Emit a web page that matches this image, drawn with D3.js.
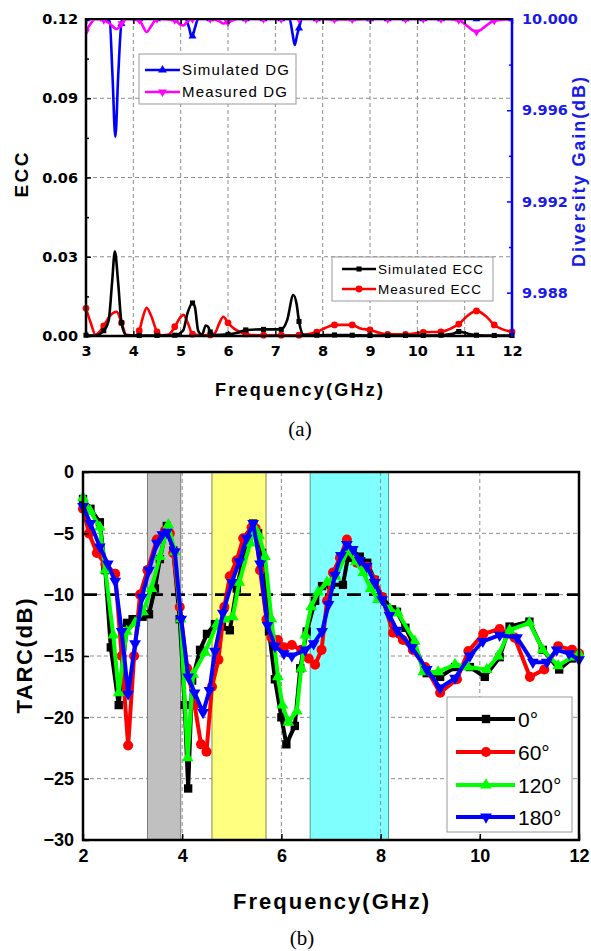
<!DOCTYPE html>
<html>
<head>
<meta charset="utf-8">
<script src="https://cdn.jsdelivr.net/npm/d3@7"></script>
<style>
  body { margin: 0; background: #fff; }
  svg text { font-family: "Liberation Sans", Arial, sans-serif; }
</style>
</head>
<body>
<svg id="chart" width="591" height="951"></svg>
<script>
// ---------- panel (a): ECC and diversity gain ----------
const eccFreqTicks = [3, 4, 5, 6, 7, 8, 9, 10, 11, 12];
const eccTicks = [0, 0.03, 0.06, 0.09, 0.12];
const eccMinorTicks = [0.015, 0.045, 0.075, 0.105];
const dgTicks = [9.988, 9.992, 9.996, 10.0];
const dgMinorTicks = [9.990, 9.994, 9.998];
const eccMarkerStep = 0.375;

// [frequency GHz, ECC]
const simulatedEcc = [
  [3.0, 0.0003], [3.2, 0.0002], [3.375, 0.002], [3.48, 0.006], [3.55, 0.02], [3.61, 0.032],
  [3.68, 0.02], [3.75, 0.005], [3.85, 0.0003], [4.125, 0.0002], [4.5, 0.0002], [4.875, 0.0003],
  [5.05, 0.002], [5.15, 0.009], [5.25, 0.0125], [5.3, 0.011], [5.37, 0.002], [5.45, 0.0005],
  [5.53, 0.004], [5.58, 0.0035], [5.625, 0.0015], [5.7, 0.0004], [6.0, 0.0006], [6.2, 0.0012],
  [6.375, 0.0023], [6.75, 0.0025], [7.125, 0.0025], [7.25, 0.006], [7.38, 0.0155], [7.45, 0.012],
  [7.5, 0.0055], [7.6, 0.0005], [7.875, 0.0003], [8.25, 0.0004], [8.625, 0.0003], [9.0, 0.0002],
  [9.375, 0.0002], [9.75, 0.0002], [10.125, 0.0002], [10.5, 0.0003], [10.75, 0.0008],
  [10.875, 0.0017], [11.0, 0.0012], [11.25, 0.0003], [11.625, 0.0002], [12.0, 0.0002]
];
const measuredEcc = [
  [3.0, 0.0105], [3.1, 0.005], [3.2, 0.0005], [3.375, 0.0038], [3.5, 0.0075], [3.65, 0.0092],
  [3.75, 0.005], [3.85, 0.0005], [4.05, 0.0003], [4.125, 0.002], [4.2, 0.007], [4.28, 0.0107],
  [4.38, 0.0075], [4.5, 0.0016], [4.6, 0.0003], [4.75, 0.0006], [4.875, 0.0035], [5.0, 0.0072],
  [5.06, 0.008], [5.15, 0.005], [5.25, 0.0007], [5.4, 0.0004], [5.625, 0.0004], [5.72, 0.001],
  [5.82, 0.005], [5.9, 0.0073], [6.0, 0.005], [6.15, 0.0025], [6.375, 0.0008], [6.5, 0.0004],
  [6.75, 0.0003], [7.125, 0.0003], [7.5, 0.0003], [7.875, 0.0015], [8.05, 0.003], [8.25, 0.0042],
  [8.625, 0.0042], [8.8, 0.0028], [9.0, 0.0023], [9.2, 0.0012], [9.375, 0.0006], [9.75, 0.0006],
  [10.125, 0.0014], [10.5, 0.0016], [10.7, 0.0028], [10.875, 0.0045], [11.05, 0.0075],
  [11.25, 0.0095], [11.45, 0.0075], [11.625, 0.0042], [11.8, 0.0025], [12.0, 0.0016]
];
// [frequency GHz, diversity gain dB]
const simulatedDg = [
  [3.0, 10.0], [3.375, 10.0], [3.5, 9.9999], [3.56, 9.9975], [3.62, 9.99483], [3.68, 9.9975],
  [3.75, 9.9998], [3.85, 10.0], [4.125, 10.0], [4.5, 10.0], [4.875, 10.0], [5.1, 10.0],
  [5.18, 9.9996], [5.23, 9.99922], [5.25, 9.99925], [5.3, 9.9996], [5.37, 10.0], [5.625, 10.0],
  [6.0, 10.0], [6.375, 10.0], [6.75, 10.0], [7.125, 10.0], [7.3, 10.0], [7.36, 9.9994],
  [7.41, 9.99886], [7.46, 9.9993], [7.5, 9.9996], [7.56, 10.0], [7.875, 10.0], [8.25, 10.0],
  [8.625, 10.0], [9.0, 10.0], [9.375, 10.0], [9.75, 10.0], [10.125, 10.0], [10.5, 10.0],
  [10.875, 10.0], [11.25, 10.0], [11.625, 10.0], [12.0, 10.0]
];
const measuredDg = [
  [3.0, 9.99945], [3.1, 9.9998], [3.2, 10.0], [3.375, 9.99995], [3.5, 9.9998], [3.65, 9.99956],
  [3.75, 9.9998], [3.85, 10.0], [4.125, 9.99995], [4.2, 9.9997], [4.28, 9.99943], [4.38, 9.9997],
  [4.5, 10.0], [4.875, 9.99995], [5.0, 9.99975], [5.06, 9.99972], [5.15, 9.9999], [5.25, 10.0],
  [5.625, 10.0], [5.82, 9.9999], [5.9, 9.9998], [6.0, 9.99985], [6.2, 10.0], [6.375, 10.0],
  [6.75, 10.0], [7.125, 10.0], [7.5, 10.0], [7.875, 10.0], [8.25, 9.99998], [8.625, 9.99998],
  [9.0, 10.0], [9.375, 10.0], [9.75, 10.0], [10.125, 10.0], [10.5, 10.0], [10.875, 9.99995],
  [11.05, 9.9997], [11.25, 9.99944], [11.45, 9.9997], [11.625, 9.99993], [12.0, 10.0]
];

// ---------- panel (b): TARC ----------
const tarcFreqTicks = [2, 4, 6, 8, 10, 12];
const tarcTicks = [0, -5, -10, -15, -20, -25, -30];
const tarcThreshold = -10;
const bandEdges = [[3.3, 3.97], [4.6, 5.69], [6.58, 8.16]];
const tarcLabels = ["0°", "60°", "120°", "180°"];

// [frequency GHz, TARC dB]
const tarc0 = [
  [2.0, -2.2], [2.15, -3.0], [2.34, -4.1], [2.45, -8], [2.56, -14.3], [2.72, -19], [2.89, -12.3],
  [3.0, -12], [3.2, -11.8], [3.33, -11.6], [3.45, -9.5], [3.55, -7.1], [3.69, -4.4], [3.82, -6.4],
  [3.95, -12], [4.05, -19], [4.12, -25.8], [4.2, -17], [4.36, -14.5], [4.5, -13.2], [4.66, -12.4],
  [4.8, -12.6], [4.96, -12.9], [5.1, -9.5], [5.3, -5.8], [5.43, -4.2], [5.53, -5], [5.61, -6.6],
  [5.75, -13], [5.87, -16.9], [6.0, -20], [6.1, -22.2], [6.27, -20.7], [6.38, -16], [6.51, -13],
  [6.68, -10.5], [6.82, -9.3], [7.0, -9.2], [7.24, -9.2], [7.34, -7], [7.44, -6.4], [7.58, -6.9],
  [7.73, -7.4], [7.88, -8.8], [8.03, -10.2], [8.23, -11.2], [8.33, -11.4], [8.5, -12.7],
  [8.65, -13.9], [8.93, -16.4], [9.2, -16.7], [9.5, -15.9], [9.8, -15.9], [10.1, -16.7],
  [10.4, -15.1], [10.6, -12.6], [11.0, -12.2], [11.27, -14.5], [11.6, -16.1], [11.86, -15.2],
  [12.0, -14.9]
];
const tarc60 = [
  [2.0, -3], [2.12, -5], [2.28, -6.6], [2.45, -7.5], [2.65, -8.3], [2.78, -15], [2.91, -22.3],
  [3.03, -15], [3.15, -10], [3.3, -8], [3.49, -5.5], [3.65, -4.8], [3.75, -5], [3.82, -6.6],
  [3.95, -11], [4.1, -16], [4.25, -19], [4.38, -22.2], [4.49, -22.8], [4.6, -17.5], [4.73, -15.3],
  [4.85, -11], [4.96, -8.5], [5.1, -7.2], [5.23, -5.4], [5.4, -4.5], [5.48, -4.6], [5.57, -8],
  [5.7, -12], [5.8, -13.5], [5.93, -13.7], [6.05, -14.3], [6.21, -14.1], [6.4, -14.5],
  [6.55, -15.2], [6.68, -15.7], [6.81, -14.5], [6.92, -10.5], [7.04, -8.2], [7.18, -7],
  [7.32, -5.5], [7.42, -6.5], [7.52, -7.4], [7.73, -7.7], [7.88, -8.8], [8.03, -10.2],
  [8.25, -13.1], [8.45, -13.7], [8.65, -14.5], [8.9, -15.9], [9.2, -18], [9.54, -16.9],
  [9.77, -14.6], [10.07, -13.2], [10.4, -12.8], [10.7, -13.5], [11.01, -16.7], [11.3, -16.1],
  [11.58, -14.2], [11.86, -14.5], [12.0, -14.8]
];
const tarc120 = [
  [2.0, -2.1], [2.15, -3.2], [2.34, -4.5], [2.45, -8], [2.61, -13.3], [2.72, -18], [2.88, -13],
  [3.05, -12.3], [3.21, -11.4], [3.38, -9.5], [3.55, -6.9], [3.72, -4.3], [3.85, -6.5],
  [3.97, -12], [4.11, -23.3], [4.22, -16.5], [4.46, -14.7], [4.7, -12.4], [4.85, -12],
  [5.02, -11.8], [5.15, -9], [5.37, -5.8], [5.45, -4.5], [5.55, -5.2], [5.67, -6.9], [5.8, -12],
  [5.93, -16.7], [6.02, -19], [6.14, -20.4], [6.31, -19.5], [6.4, -16], [6.48, -13.3],
  [6.6, -11], [6.74, -9.8], [6.92, -9], [7.1, -8.5], [7.34, -6.4], [7.5, -7.3], [7.65, -8.2],
  [7.8, -9.5], [7.95, -10.4], [8.19, -11.2], [8.35, -11.5], [8.69, -13.8], [8.86, -16.3],
  [9.16, -16.3], [9.5, -15.7], [9.76, -15.9], [10.14, -16.1], [10.37, -15], [10.6, -12.9],
  [11.0, -12.3], [11.27, -14.5], [11.58, -15.8], [11.85, -15.1], [12.0, -14.8]
];
const tarc180 = [
  [2.0, -2.8], [2.15, -4.2], [2.34, -6.1], [2.5, -7.5], [2.65, -8.9], [2.78, -13], [2.91, -18.1],
  [3.05, -14], [3.19, -10.2], [3.33, -8], [3.49, -5.8], [3.6, -5.1], [3.69, -4.9], [3.85, -6.5],
  [3.98, -12], [4.12, -16.7], [4.25, -18], [4.42, -19.6], [4.55, -17.8], [4.66, -14.6],
  [4.82, -11.5], [5.0, -9], [5.15, -7.3], [5.3, -5.4], [5.43, -4.2], [5.57, -7.5], [5.72, -12.5],
  [5.87, -14.2], [6.05, -14.8], [6.21, -15], [6.48, -14.5], [6.65, -14], [6.82, -13],
  [6.95, -10.8], [7.08, -8.4], [7.2, -6.8], [7.32, -5.9], [7.44, -6.3], [7.58, -7.2],
  [7.72, -7.7], [7.88, -9], [8.03, -10.4], [8.18, -11.7], [8.33, -12.9], [8.63, -14.3],
  [8.93, -16.1], [9.2, -17.6], [9.5, -16.8], [9.8, -15], [10.06, -13.8], [10.4, -13.3],
  [10.75, -13.5], [11.07, -15.5], [11.35, -15.5], [11.55, -14.5], [11.8, -14.8], [12.0, -15.3]
];

const svg = d3.select("#chart");
const BLUE_TXT = "#1a1ae6";
const TICK_FONT_A = "'DejaVu Sans', sans-serif";

function styleAxis(g, color, fontSize, family) {
  g.select(".domain").remove();
  g.selectAll(".tick line").attr("stroke", color).attr("stroke-width", 1.5);
  g.selectAll(".tick text")
    .attr("fill", color)
    .style("font-family", family || null)
    .style("font-size", fontSize + "px")
    .style("font-weight", "bold");
}

const symbols = {
  square: d3.symbolSquare,
  circle: d3.symbolCircle,
  up: d3.symbolTriangle,
  down: d3.symbolTriangle
};
function markerPath(kind, size) {
  return d3.symbol().type(symbols[kind]).size(size)();
}
function markerTransform(kind, x, y) {
  return `translate(${x},${y})` + (kind === "down" ? " rotate(180)" : "");
}

// ================= panel (a) =================
const ax = d3.scaleLinear().domain([3, 12]).range([86, 512]);
const ayL = d3.scaleLinear().domain([0, 0.12]).range([336, 19]);
const ayR = d3.scaleLinear().domain([9.9861, 10]).range([336, 19]);

const pa = svg.append("g");
pa.append("defs").append("clipPath").attr("id", "clipA")
  .append("rect").attr("x", 86).attr("y", 19).attr("width", 426).attr("height", 317);

// grid
pa.append("g").selectAll("line").data(eccFreqTicks.slice(1, -1)).join("line")
  .attr("x1", d => ax(d)).attr("x2", d => ax(d)).attr("y1", 19).attr("y2", 336)
  .attr("stroke", "#8c8c8c").attr("stroke-width", 1).attr("stroke-dasharray", "4,3");
pa.append("g").selectAll("line").data(eccTicks.slice(1, -1)).join("line")
  .attr("x1", 86).attr("x2", 512).attr("y1", d => ayL(d)).attr("y2", d => ayL(d))
  .attr("stroke", "#8c8c8c").attr("stroke-width", 1).attr("stroke-dasharray", "4,3");

function isEccMarker(f) {
  const k = (f - 3) / eccMarkerStep;
  return Math.abs(k - Math.round(k)) < 1e-6;
}

function drawSeriesA(data, yScale, color, kind, size, clip) {
  const g = pa.append("g");
  if (clip) g.attr("clip-path", "url(#clipA)");
  const line = d3.line().x(d => ax(d[0])).y(d => yScale(d[1])).curve(d3.curveMonotoneX);
  g.append("path").datum(data).attr("d", line)
    .attr("fill", "none").attr("stroke", color).attr("stroke-width", 2.6)
    .attr("stroke-linejoin", "round");
  g.selectAll("path.m").data(data.filter(d => isEccMarker(d[0]))).join("path")
    .attr("class", "m").attr("d", markerPath(kind, size))
    .attr("transform", d => markerTransform(kind, ax(d[0]), yScale(d[1])))
    .attr("fill", color);
}

drawSeriesA(simulatedDg, ayR, "#0000ff", "up", 28, true);
drawSeriesA(measuredDg, ayR, "#ff00ff", "down", 28, true);
drawSeriesA(measuredEcc, ayL, "#ff0000", "circle", 36, false);
drawSeriesA(simulatedEcc, ayL, "#000000", "square", 26, false);

// axes (a)
const aLeft = pa.append("g").attr("transform", "translate(86,0)")
  .call(d3.axisLeft(ayL).tickValues(eccTicks).tickFormat(d3.format(".2f"))
    .tickSizeInner(-5).tickSizeOuter(0).tickPadding(8));
styleAxis(aLeft, "#000", 14.5, TICK_FONT_A);
const aLeftMinor = pa.append("g").attr("transform", "translate(86,0)")
  .call(d3.axisLeft(ayL).tickValues(eccMinorTicks).tickFormat("").tickSizeInner(-3).tickSizeOuter(0));
styleAxis(aLeftMinor, "#000", 14.5, TICK_FONT_A);

const aBottom = pa.append("g").attr("transform", "translate(0,336)")
  .call(d3.axisBottom(ax).tickValues(eccFreqTicks).tickFormat(d3.format("d"))
    .tickSizeInner(-5).tickSizeOuter(0).tickPadding(10));
styleAxis(aBottom, "#000", 14.5, TICK_FONT_A);
const aTop = pa.append("g").attr("transform", "translate(0,19)")
  .call(d3.axisTop(ax).tickValues(eccFreqTicks).tickFormat("").tickSizeInner(-5).tickSizeOuter(0));
styleAxis(aTop, "#000", 14.5, TICK_FONT_A);

const aRight = pa.append("g").attr("transform", "translate(512,0)")
  .call(d3.axisRight(ayR).tickValues(dgTicks).tickFormat(d3.format(".3f"))
    .tickSizeInner(-5).tickSizeOuter(0).tickPadding(10));
styleAxis(aRight, "#0000ff", 14.5, TICK_FONT_A);
aRight.selectAll(".tick text").attr("fill", BLUE_TXT);
const aRightMinor = pa.append("g").attr("transform", "translate(512,0)")
  .call(d3.axisRight(ayR).tickValues(dgMinorTicks).tickFormat("").tickSizeInner(-3).tickSizeOuter(0));
styleAxis(aRightMinor, "#0000ff", 14.5, TICK_FONT_A);

// frame (a)
pa.append("line").attr("x1", 85).attr("x2", 512).attr("y1", 19).attr("y2", 19).attr("stroke", "#000").attr("stroke-width", 2);
pa.append("line").attr("x1", 85).attr("x2", 512).attr("y1", 336).attr("y2", 336).attr("stroke", "#000").attr("stroke-width", 2.5);
pa.append("line").attr("x1", 86).attr("x2", 86).attr("y1", 18).attr("y2", 337).attr("stroke", "#000").attr("stroke-width", 2.5);
pa.append("line").attr("x1", 512).attr("x2", 512).attr("y1", 18).attr("y2", 337).attr("stroke", "#0000ff").attr("stroke-width", 2.5);

// axis titles (a)
pa.append("text").attr("transform", "translate(28,175) rotate(-90)")
  .attr("text-anchor", "middle").attr("textLength", 45).attr("lengthAdjust", "spacing")
  .style("font-size", "19px").style("font-weight", "bold").text("ECC");
pa.append("text").attr("transform", "translate(585,172) rotate(-90)")
  .attr("text-anchor", "middle").attr("textLength", 190).attr("lengthAdjust", "spacing")
  .style("font-size", "18px").style("font-weight", "bold")
  .attr("fill", BLUE_TXT).text("Diversity Gain(dB)");
pa.append("text").attr("x", 215).attr("y", 395.5)
  .attr("textLength", 168).attr("lengthAdjust", "spacing")
  .style("font-size", "18px").style("font-weight", "bold").text("Frequency(GHz)");
pa.append("text").attr("x", 300).attr("y", 436).attr("text-anchor", "middle")
  .style("font-family", "'Liberation Serif', serif").style("font-size", "21px").text("(a)");

// legends (a)
function legendA(x, y, w, h, entries, fs) {
  const g = pa.append("g");
  g.append("rect").attr("x", x).attr("y", y).attr("width", w).attr("height", h)
    .attr("fill", "#fff").attr("stroke", "#999").attr("stroke-width", 1);
  entries.forEach(e => {
    g.append("line").attr("x1", e.x1).attr("x2", e.x2).attr("y1", e.y).attr("y2", e.y)
      .attr("stroke", e.color).attr("stroke-width", 2.6);
    g.append("path").attr("d", markerPath(e.kind, e.size))
      .attr("transform", markerTransform(e.kind, (e.x1 + e.x2) / 2, e.y)).attr("fill", e.color);
    g.append("text").attr("x", e.tx).attr("y", e.y).attr("dy", "0.36em")
      .attr("textLength", e.tw).attr("lengthAdjust", "spacing")
      .style("font-size", fs + "px").text(e.label);
  });
}
legendA(139, 54, 157, 50, [
  { x1: 145, x2: 180, y: 70, color: "#0000ff", kind: "up", size: 34, tx: 182, tw: 107, label: "Simulated DG" },
  { x1: 145, x2: 180, y: 92, color: "#ff00ff", kind: "down", size: 34, tx: 182, tw: 105, label: "Measured DG" }
], 15);
legendA(332, 257, 161, 44, [
  { x1: 342, x2: 376, y: 269, color: "#000", kind: "square", size: 26, tx: 378, tw: 105, label: "Simulated ECC" },
  { x1: 342, x2: 376, y: 289, color: "#ff0000", kind: "circle", size: 36, tx: 378, tw: 103, label: "Measured ECC" }
], 13.5);

// ================= panel (b) =================
const bx = d3.scaleLinear().domain([2, 12]).range([83, 579]);
const by = d3.scaleLinear().domain([-30, 0]).range([840, 472]);
const pb = svg.append("g");

// horizontal grid (under the bands)
pb.append("g").selectAll("line").data(tarcTicks.filter(d => d !== 0 && d !== -30)).join("line")
  .attr("x1", 83).attr("x2", 579).attr("y1", d => by(d)).attr("y2", d => by(d))
  .attr("stroke", "#8c8c8c").attr("stroke-width", 1).attr("stroke-dasharray", "4,3");

// operating bands
const bandFill = ["#c0c0c0", "#ffff80", "#80ffff"];
const bandStroke = ["#7a7a7a", "#8a8a50", "#4f9a9a"];
pb.append("g").selectAll("rect").data(bandEdges).join("rect")
  .attr("x", d => bx(d[0])).attr("y", by(0)).attr("width", d => bx(d[1]) - bx(d[0]))
  .attr("height", by(-30) - by(0))
  .attr("fill", (d, i) => bandFill[i]).attr("stroke", (d, i) => bandStroke[i]).attr("stroke-width", 1);

// vertical grid
pb.append("g").selectAll("line").data(tarcFreqTicks.slice(1, -1)).join("line")
  .attr("x1", d => bx(d)).attr("x2", d => bx(d)).attr("y1", 472).attr("y2", 840)
  .attr("stroke", "#8c8c8c").attr("stroke-width", 1).attr("stroke-dasharray", "4,3");

// -10 dB reference
pb.append("line").attr("x1", 83).attr("x2", 579)
  .attr("y1", by(tarcThreshold)).attr("y2", by(tarcThreshold))
  .attr("stroke", "#000").attr("stroke-width", 2.6).attr("stroke-dasharray", "14,8");

const tarcSeries = [
  { data: tarc0, color: "#000000", kind: "square", size: 70 },
  { data: tarc60, color: "#ff0000", kind: "circle", size: 80 },
  { data: tarc120, color: "#00ff00", kind: "up", size: 60 },
  { data: tarc180, color: "#0000ff", kind: "down", size: 60 }
];
const tline = d3.line().x(d => bx(d[0])).y(d => by(d[1]));
tarcSeries.forEach(s => {
  const g = pb.append("g");
  g.append("path").datum(s.data).attr("d", tline)
    .attr("fill", "none").attr("stroke", s.color).attr("stroke-width", 4)
    .attr("stroke-linejoin", "round");
  g.selectAll("path.m").data(s.data).join("path").attr("class", "m")
    .attr("d", markerPath(s.kind, s.size))
    .attr("transform", d => markerTransform(s.kind, bx(d[0]), by(d[1])))
    .attr("fill", s.color);
});

// axes (b)
const bLeft = pb.append("g").attr("transform", "translate(83,0)")
  .call(d3.axisLeft(by).tickValues(tarcTicks).tickFormat(d3.format("d"))
    .tickSizeInner(-6).tickSizeOuter(0).tickPadding(9));
styleAxis(bLeft, "#000", 18);
const bBottom = pb.append("g").attr("transform", "translate(0,840)")
  .call(d3.axisBottom(bx).tickValues(tarcFreqTicks).tickFormat(d3.format("d"))
    .tickSizeInner(-6).tickSizeOuter(0).tickPadding(9));
styleAxis(bBottom, "#000", 18);

pb.append("rect").attr("x", 83).attr("y", 472).attr("width", 496).attr("height", 368)
  .attr("fill", "none").attr("stroke", "#000").attr("stroke-width", 2.5);

// axis titles (b)
pb.append("text").attr("transform", "translate(32,656) rotate(-90)")
  .attr("text-anchor", "middle").attr("textLength", 115).attr("lengthAdjust", "spacing")
  .style("font-size", "22px").style("font-weight", "bold").text("TARC(dB)");
pb.append("text").attr("x", 233).attr("y", 909)
  .attr("textLength", 196).attr("lengthAdjust", "spacing")
  .style("font-size", "22px").style("font-weight", "bold").text("Frequency(GHz)");
pb.append("text").attr("x", 302).attr("y", 945).attr("text-anchor", "middle")
  .style("font-family", "'Liberation Serif', serif").style("font-size", "21px").text("(b)");

// legend (b)
const lg = pb.append("g");
lg.append("rect").attr("x", 447).attr("y", 697).attr("width", 125).attr("height", 135)
  .attr("fill", "#fff").attr("stroke", "#999").attr("stroke-width", 1);
const legendY = [719, 752, 785, 817];
tarcSeries.forEach((s, i) => {
  lg.append("line").attr("x1", 456).attr("x2", 515).attr("y1", legendY[i]).attr("y2", legendY[i])
    .attr("stroke", s.color).attr("stroke-width", 4);
  lg.append("path").attr("d", markerPath(s.kind, s.size))
    .attr("transform", markerTransform(s.kind, 486, legendY[i])).attr("fill", s.color);
  lg.append("text").attr("x", 518).attr("y", legendY[i]).attr("dy", "0.36em")
    .style("font-size", "21px").text(tarcLabels[i]);
});
</script>
</body>
</html>
